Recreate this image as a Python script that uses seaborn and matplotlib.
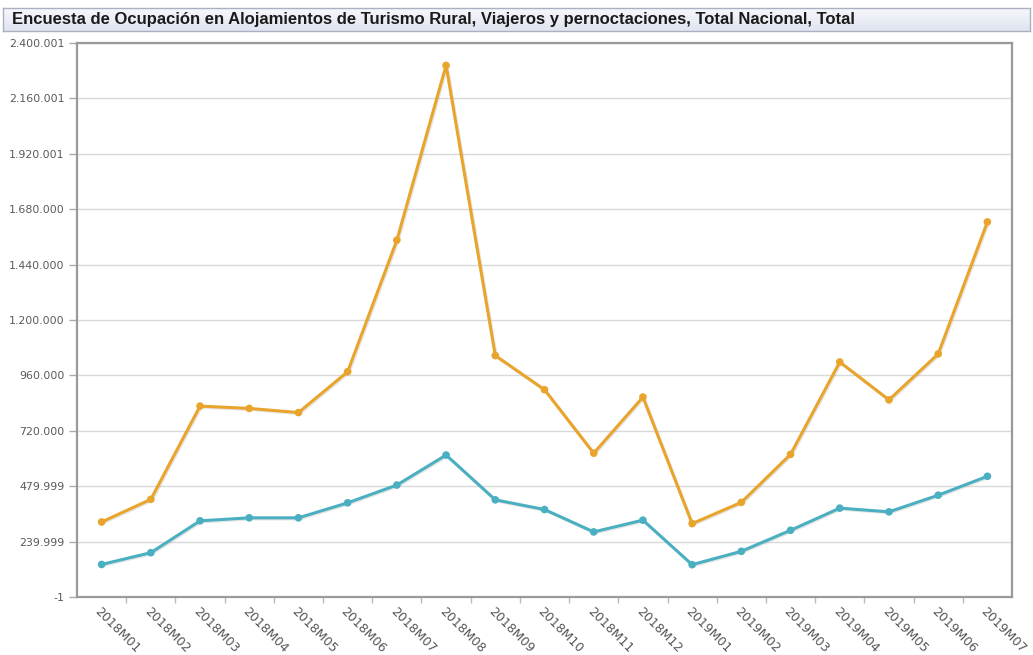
import matplotlib
matplotlib.use("Agg")
import matplotlib.patheffects as path_effects
import matplotlib.pyplot as plt
import numpy as np
import pandas as pd
import seaborn as sns

# data
periods = [
    "2018M01", "2018M02", "2018M03", "2018M04", "2018M05", "2018M06",
    "2018M07", "2018M08", "2018M09", "2018M10", "2018M11", "2018M12",
    "2019M01", "2019M02", "2019M03", "2019M04", "2019M05", "2019M06",
    "2019M07",
]
pernoctaciones = [
    325000, 423000, 827000, 817000, 799000, 976000,
    1546000, 2303000, 1046000, 898000, 623000, 866000,
    318000, 410000, 618000, 1018000, 854000, 1053000,
    1625000,
]
viajeros = [
    141000, 192000, 330000, 343000, 343000, 408000,
    485000, 615000, 421000, 379000, 282000, 333000,
    140000, 198000, 289000, 385000, 369000, 441000,
    523000,
]
series_names = ["Pernoctaciones", "Viajeros"]
series_colors = ["#E9A42B", "#4AB0C1"]
y_tick_labels = [
    "-1", "239.999", "479.999", "720.000", "960.000", "1.200.000",
    "1.440.000", "1.680.000", "1.920.001", "2.160.001", "2.400.001",
]
title = ("Encuesta de Ocupación en Alojamientos de Turismo Rural, "
         "Viajeros y pernoctaciones, Total Nacional, Total")

df = pd.DataFrame({
    "Periodo": periods * 2,
    "Valor": pernoctaciones + viajeros,
    "Serie": [series_names[0]] * len(periods) + [series_names[1]] * len(periods),
})

sns.set_theme(style="white")
plt.rcParams["font.family"] = ["DejaVu Sans"]

W, H = 1033, 655
fig = plt.figure(figsize=(W / 100, H / 100), dpi=100)
ax = fig.add_axes([77 / W, 1 - 597 / H, (1012 - 77) / W, (597 - 43) / H])

sns.lineplot(
    data=df, x="Periodo", y="Valor", hue="Serie",
    palette=dict(zip(series_names, series_colors)),
    marker="o", markersize=5.5, markeredgewidth=0, linewidth=2.2,
    legend=False, ax=ax, sort=False,
)
for line in ax.lines:
    line.set_path_effects([
        path_effects.SimpleLineShadow(offset=(0.8, -0.8), shadow_color="#999999", alpha=0.25),
        path_effects.Normal(),
    ])

# y axis
y_ticks = np.linspace(-1, 2400001, len(y_tick_labels))
ax.set_ylim(-1, 2400001)
ax.set_yticks(y_ticks)
ax.set_yticklabels(y_tick_labels)
ax.yaxis.grid(True, color="#d9d9d9", linewidth=1)
ax.set_axisbelow(True)

# x axis
n = len(periods)
ax.set_xlim(-0.5, n - 0.5)
ax.set_xticks(range(n))
ax.set_xticklabels(periods, rotation=-45, ha="left", va="top",
                   rotation_mode="anchor")
ax.set_xticks(np.arange(0.5, n - 1, 1), minor=True)
ax.tick_params(axis="x", which="major", length=0, pad=6, labelsize=9,
               labelcolor="#555555")
ax.tick_params(axis="x", which="minor", bottom=True, length=4, width=1,
               color="#bbbbbb")
ax.tick_params(axis="y", left=True, length=6, width=1, color="#aaaaaa",
               labelsize=7.9, labelcolor="#5a5a5a", pad=3)
ax.set_xlabel("")
ax.set_ylabel("")

for side in ["left", "bottom", "top", "right"]:
    ax.spines[side].set_visible(True)
    ax.spines[side].set_color("#9a9a9a")
    ax.spines[side].set_linewidth(1.6)

# title bar with a soft gradient
tax = fig.add_axes([3 / W, 1 - 31 / H, (1030 - 3) / W, 23 / H])
grad = np.linspace(0, 1, 64).reshape(-1, 1)
tax.imshow(grad, aspect="auto", cmap=matplotlib.colors.LinearSegmentedColormap.from_list(
    "bar", ["#f7f8fc", "#dfe4f0"]), extent=[0, 1, 0, 1], origin="upper")
tax.set_xticks([])
tax.set_yticks([])
for s in tax.spines.values():
    s.set_color("#a9b0c0")
    s.set_linewidth(1)
tax.text(9 / 1027, 0.48, title, transform=tax.transAxes, ha="left", va="center",
         fontsize=12, fontweight="bold", color="#1a1a1a",
         family=["Liberation Sans", "DejaVu Sans"])

fig.savefig("out.png", dpi=100, facecolor="white")
